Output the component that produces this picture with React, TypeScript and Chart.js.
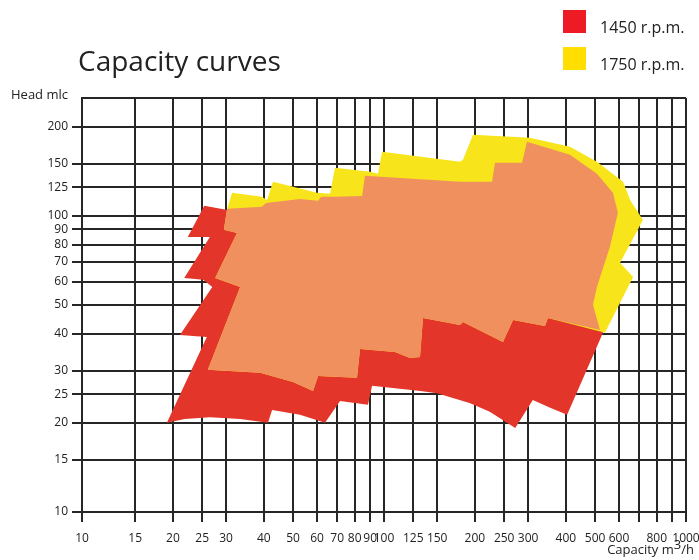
import React, { useEffect, useRef } from "react";
import { Chart, registerables } from "chart.js";

Chart.register(...registerables);

// ---- axis ticks ----
const xTickValues = [10, 15, 20, 25, 30, 40, 50, 60, 70, 80, 90, 100, 125, 150, 200, 250, 300, 400, 500, 600, 700, 800, 900, 1000];
const xUnlabeled = [700, 900];
const yTickValues = [10, 15, 20, 25, 30, 40, 50, 60, 70, 80, 90, 100, 125, 150, 200, 250];
const yUnlabeled = [250];

// ---- series: outlines of the operating areas [capacity m3/h, head m] ----
const rpm1450Outline: [number, number][] = [
  [19.1, 20.0], [25.9, 39.0], [21.1, 39.6], [27.0, 57.5], [25.2, 60.8], [21.8, 61.7],
  [26.5, 84.9], [22.4, 84.9], [25.4, 108.1], [30.0, 104.8], [39.4, 107.3], [40.7, 110.6],
  [52.7, 114.1], [60.5, 112.4], [61.9, 115.9], [68.8, 115.9], [84.6, 116.8], [86.5, 136.5],
  [178.5, 130.3], [227.9, 130.3], [233.1, 151.0], [286.4, 151.0], [297.5, 177.8], [413, 160.7],
  [507, 138.6], [573, 119.6], [595, 102.4], [560, 78.6], [507, 57.5], [492, 50.1],
  [531, 40.3], [404, 21.3], [355, 22.5], [311, 23.9], [272, 19.2], [224, 21.8],
  [193, 23.3], [150, 25.2], [132, 25.6], [91.3, 26.7], [88.5, 23.0], [71.5, 23.7],
  [63.8, 20.0], [52.7, 21.3], [42.6, 22.1], [41.3, 20.0], [33.4, 20.6], [26.5, 20.9], [21.9, 20.6],
];

const rpm1750Outline: [number, number][] = [
  [26.1, 30.2], [33.4, 57.5], [27.6, 61.7], [32.6, 87.6], [29.5, 89.7], [30.2, 104.8],
  [31.4, 119.6], [39.4, 115.9], [41.0, 113.2], [42.9, 130.3], [60.0, 119.6], [66.3, 118.7],
  [68.8, 145.3], [89.9, 140.8], [95.5, 138.6], [98.5, 164.5], [178.5, 152.2], [182.6, 154.6],
  [197.1, 187.7], [304, 183.4], [413, 171.0], [507, 152.2], [619, 130.3], [653, 113.2],
  [720, 96.9], [605, 69.4], [668, 62.2], [539, 40.3], [349, 45.2], [341, 42.5],
  [267.5, 44.5], [247.7, 37.5], [182.6, 43.8], [178.5, 42.8], [134.6, 45.2], [131.6, 33.4],
  [122.0, 33.1], [108.7, 34.7], [83.3, 35.5], [81.4, 28.4], [60.5, 28.8], [58.2, 25.6],
  [50.0, 27.5], [38.9, 29.5],
];

// area covered at both speeds
const overlapOutline: [number, number][] = [
  [30.4, 105.6], [39.4, 107.3], [40.7, 110.6], [52.7, 114.1], [60.5, 112.4], [61.9, 115.9],
  [68.8, 115.9], [84.6, 116.8], [86.5, 136.5], [178.5, 130.3], [227.9, 130.3], [233.1, 151.0],
  [286.4, 151.0], [297.5, 177.8], [413, 160.7], [507, 138.6], [573, 119.6], [595, 102.4],
  [560, 78.6], [507, 57.5], [492, 50.1], [519, 41.2], [349, 45.2], [341, 42.5],
  [267.5, 44.5], [247.7, 37.5], [182.6, 43.8], [178.5, 42.8], [134.6, 45.2], [131.6, 33.4],
  [122.0, 33.1], [108.7, 34.7], [83.3, 35.5], [81.4, 28.4], [60.5, 28.8], [58.2, 25.6],
  [50.0, 27.5], [38.9, 29.5], [26.1, 30.2], [33.4, 57.5], [27.6, 61.7], [32.6, 87.6],
  [29.5, 89.7], [30.2, 104.8],
];

const legendLabels = ["1450 r.p.m.", "1750 r.p.m."];

const RED = "#E3352A";
const YELLOW = "#F8E41A";
const ORANGE = "#F1905F";
const LEGEND_RED = "#ED1C24";
const LEGEND_YELLOW = "#FFDE00";
const GRID = "#262626";
const TEXT = "#222222";
const FONT = "'Open Sans', 'DejaVu Sans', sans-serif";

const toPoints = (arr: [number, number][]) => [...arr, arr[0]].map(([x, y]) => ({ x, y }));

const areaDataset = (label: string, arr: [number, number][], color: string, order: number) => ({
  label,
  data: toPoints(arr),
  showLine: true,
  fill: "shape",
  backgroundColor: color,
  borderColor: "rgba(0,0,0,0)",
  borderWidth: 0,
  pointRadius: 0,
  pointHoverRadius: 0,
  tension: 0,
  order,
});

const zeroPad = (s: any) => {
  s.paddingLeft = 0;
  s.paddingRight = 0;
  s.paddingTop = 0;
  s.paddingBottom = 0;
};

export default function App() {
  const ref = useRef<HTMLCanvasElement>(null);

  useEffect(() => {
    if (!ref.current) return;
    const chart = new Chart(ref.current, {
      type: "scatter",
      data: {
        datasets: [
          areaDataset("both", overlapOutline, ORANGE, 0) as any,
          areaDataset(legendLabels[1], rpm1750Outline, YELLOW, 1) as any,
          areaDataset(legendLabels[0], rpm1450Outline, RED, 2) as any,
        ],
      },
      options: {
        animation: false,
        responsive: false,
        maintainAspectRatio: false,
        layout: { padding: { top: 98, right: 13, left: 0, bottom: 0 } },
        plugins: { legend: { display: false }, tooltip: { enabled: false } },
        scales: {
          x: {
            type: "logarithmic",
            min: 10,
            max: 1000,
            z: 1,
            afterBuildTicks: (s: any) => {
              s.ticks = xTickValues.map((v) => ({ value: v }));
            },
            afterFit: (s: any) => {
              s.height = 48;
              zeroPad(s);
            },
            grid: { color: GRID, lineWidth: 2, tickLength: 10, drawTicks: true, tickColor: GRID },
            border: { display: true, color: GRID, width: 2 },
            ticks: {
              autoSkip: false,
              maxRotation: 0,
              minRotation: 0,
              padding: 9,
              color: TEXT,
              font: { family: FONT, size: 12 },
              callback: (v: any) => (xUnlabeled.includes(Number(v)) ? "" : String(v)),
            },
          },
          y: {
            type: "logarithmic",
            min: 10,
            max: 250,
            z: 1,
            afterBuildTicks: (s: any) => {
              s.ticks = yTickValues.map((v) => ({ value: v }));
            },
            afterFit: (s: any) => {
              s.width = 82;
              zeroPad(s);
            },
            grid: {
              color: GRID,
              lineWidth: 2,
              tickLength: 10,
              drawTicks: true,
              tickColor: (ctx: any) => (ctx.tick && yUnlabeled.includes(ctx.tick.value) ? "rgba(0,0,0,0)" : GRID),
            },
            border: { display: true, color: GRID, width: 2 },
            ticks: {
              autoSkip: false,
              padding: 4,
              color: TEXT,
              font: { family: FONT, size: 12 },
              callback: (v: any) => (yUnlabeled.includes(Number(v)) ? "" : String(v)),
            },
          },
        },
      } as any,
    });
    return () => chart.destroy();
  }, []);

  return (
    <div
      style={{
        position: "fixed",
        left: 0,
        top: 0,
        width: 699,
        height: 560,
        background: "#ffffff",
        fontFamily: FONT,
        color: TEXT,
        overflow: "hidden",
      }}
    >
      <canvas ref={ref} width={699} height={560} style={{ position: "absolute", left: 0, top: 0, width: 699, height: 560 }} />
      <div style={{ position: "absolute", left: 78, top: 46, fontSize: 28, lineHeight: "28px", whiteSpace: "nowrap" }}>
        Capacity curves
      </div>
      <div style={{ position: "absolute", left: 563, top: 10, width: 23, height: 23, background: LEGEND_RED }} />
      <div style={{ position: "absolute", left: 600, top: 19, fontSize: 16, lineHeight: "16px", whiteSpace: "nowrap" }}>
        {legendLabels[0]}
      </div>
      <div style={{ position: "absolute", left: 563, top: 47, width: 23, height: 23, background: LEGEND_YELLOW }} />
      <div style={{ position: "absolute", left: 600, top: 56, fontSize: 16, lineHeight: "16px", whiteSpace: "nowrap" }}>
        {legendLabels[1]}
      </div>
      <div style={{ position: "absolute", left: 11, top: 88, fontSize: 13, lineHeight: "13px", whiteSpace: "nowrap" }}>
        Head mlc
      </div>
      <div style={{ position: "absolute", right: 5, top: 543, fontSize: 13, lineHeight: "13px", whiteSpace: "nowrap" }}>
        Capacity m<span style={{ position: "relative", top: -5, fontSize: 13 }}>3</span>/h
      </div>
    </div>
  );
}
